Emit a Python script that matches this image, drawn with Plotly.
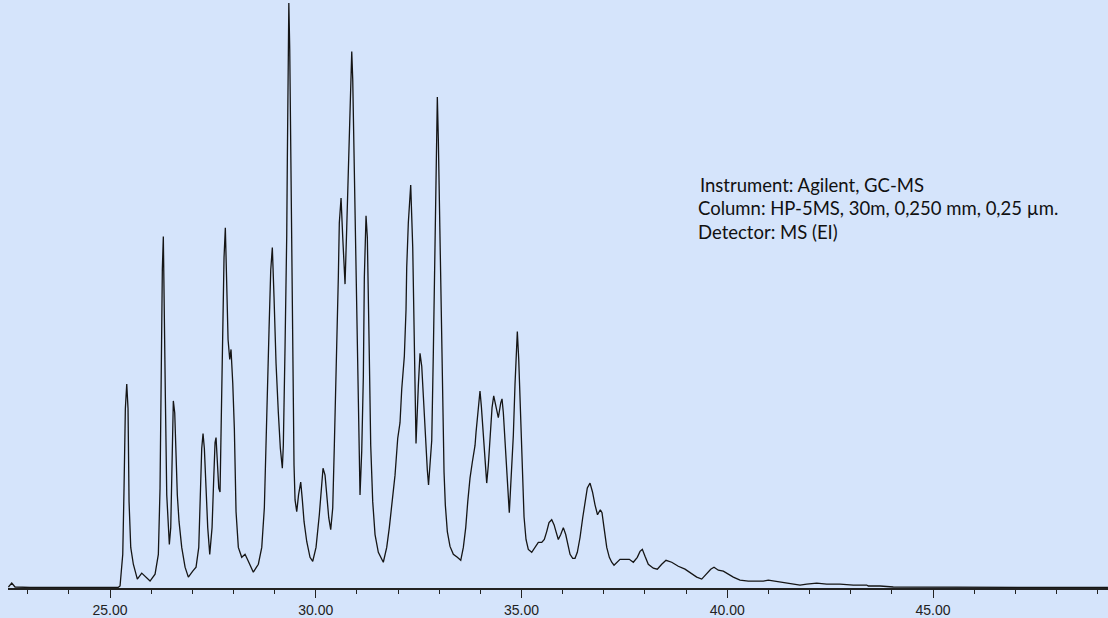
import plotly.graph_objects as go

# Total ion chromatogram: retention time (min) and abundance (x1000 counts)
rt_min = [
    22.529, 22.611, 22.691, 23.056, 23.785, 24.514, 25.194, 25.243,
    25.309, 25.340, 25.372, 25.406, 25.437, 25.462, 25.503, 25.566, 25.663, 25.770,
    25.868, 25.972, 26.094, 26.174, 26.215, 26.239, 26.271, 26.295, 26.320, 26.344,
    26.378, 26.409, 26.441, 26.475, 26.507, 26.538, 26.572, 26.604, 26.635, 26.677,
    26.742, 26.823, 26.903, 27.010, 27.090, 27.156, 27.187, 27.228, 27.260, 27.292,
    27.333, 27.374, 27.423, 27.479, 27.520, 27.552, 27.576, 27.608, 27.642, 27.673,
    27.697, 27.729, 27.770, 27.802, 27.836, 27.868, 27.909, 27.940, 27.982, 28.021,
    28.062, 28.118, 28.200, 28.281, 28.361, 28.482, 28.604, 28.687, 28.750, 28.808,
    28.864, 28.905, 28.944, 28.985, 29.034, 29.090, 29.139, 29.187, 29.211, 29.253,
    29.277, 29.294, 29.309, 29.321, 29.345, 29.367, 29.382, 29.399, 29.416, 29.440,
    29.471, 29.496, 29.537, 29.581, 29.634, 29.673, 29.715, 29.780, 29.860, 29.926,
    30.006, 30.086, 30.128, 30.176, 30.225, 30.266, 30.315, 30.363, 30.412, 30.451,
    30.492, 30.524, 30.548, 30.572, 30.614, 30.655, 30.687, 30.711, 30.752, 30.791,
    30.832, 30.874, 30.898, 30.937, 30.978, 31.019, 31.058, 31.075, 31.117, 31.156,
    31.180, 31.202, 31.221, 31.253, 31.277, 31.301, 31.335, 31.384, 31.440, 31.520,
    31.641, 31.724, 31.787, 31.846, 31.926, 31.991, 32.047, 32.089, 32.152, 32.193,
    32.210, 32.249, 32.307, 32.356, 32.395, 32.419, 32.436, 32.492, 32.533, 32.575,
    32.614, 32.655, 32.711, 32.740, 32.776, 32.818, 32.857, 32.891, 32.922, 32.939,
    32.954, 32.978, 33.019, 33.061, 33.100, 33.117, 33.148, 33.197, 33.262, 33.343,
    33.440, 33.523, 33.586, 33.644, 33.693, 33.748, 33.804, 33.870, 33.894, 33.936,
    33.975, 33.991, 34.023, 34.072, 34.120, 34.154, 34.193, 34.235, 34.283, 34.324,
    34.380, 34.436, 34.495, 34.526, 34.558, 34.599, 34.640, 34.672, 34.703, 34.738,
    34.762, 34.801, 34.842, 34.883, 34.898, 34.932, 34.964, 35.005, 35.061, 35.109,
    35.165, 35.248, 35.328, 35.408, 35.491, 35.554, 35.612, 35.668, 35.734, 35.790,
    35.838, 35.894, 35.953, 36.016, 36.074, 36.123, 36.179, 36.244, 36.300, 36.356,
    36.422, 36.487, 36.543, 36.599, 36.665, 36.725, 36.786, 36.847, 36.915, 36.956,
    37.005, 37.071, 37.134, 37.192, 37.248, 37.314, 37.394, 37.515, 37.620, 37.717,
    37.814, 37.880, 37.936, 38.001, 38.081, 38.203, 38.300, 38.407, 38.511, 38.650,
    38.810, 38.973, 39.136, 39.258, 39.379, 39.501, 39.598, 39.678, 39.783, 39.904,
    40.026, 40.147, 40.310, 40.512, 40.716, 40.876, 40.998, 41.160, 41.323, 41.525,
    41.768, 41.931, 42.174, 42.417, 42.740, 43.063, 43.389, 43.428, 43.712, 44.035,
    44.847, 45.656, 46.628, 47.843, 49.252,
]

abundance = [
    5, 45, 5, 0, 0, 0, 0, 15,
    335, 1005, 1805, 2055, 1805, 865, 405, 235, 85, 145,
    105, 65, 135, 335, 1005, 2135, 3215, 3545, 2935, 1935,
    935, 605, 435, 605, 1265, 1885, 1765, 1335, 935, 665,
    405, 205, 105, 165, 205, 405, 935, 1405, 1555, 1405,
    1005, 605, 335, 605, 1105, 1465, 1515, 1265, 1005, 965,
    1605, 2605, 3335, 3635, 3165, 2505, 2305, 2405, 2065, 1605,
    765, 405, 305, 335, 265, 155, 235, 405, 805, 1605,
    2605, 3205, 3435, 2935, 2265, 1765, 1405, 1205, 1435, 2435,
    2935, 3555, 4335, 4955, 5905, 5435, 4865, 3935, 2935, 2135,
    1235, 885, 765, 935, 1065, 885, 665, 465, 305, 265,
    405, 735, 1005, 1205, 1135, 935, 705, 585, 805, 1435,
    2065, 2505, 3135, 3685, 3935, 3535, 3185, 3065, 3635, 4285,
    4935, 5415, 5135, 4235, 3035, 2035, 1265, 935, 1385, 2135,
    3135, 3535, 3755, 3535, 3035, 2335, 1435, 865, 535, 355,
    255, 405, 605, 835, 1135, 1505, 1665, 2005, 2335, 2805,
    3235, 3685, 4065, 3435, 2435, 1735, 1455, 2035, 2365, 2235,
    1935, 1535, 1185, 1035, 1235, 1485, 2375, 3235, 3985, 4435,
    4955, 4535, 3535, 2365, 1535, 1165, 835, 565, 415, 335,
    305, 275, 405, 605, 865, 1105, 1265, 1435, 1565, 1785,
    1965, 1985, 1835, 1535, 1235, 1055, 1235, 1535, 1815, 1935,
    1835, 1715, 1865, 1905, 1765, 1505, 1205, 935, 755, 1035,
    1235, 1535, 2055, 2485, 2585, 2305, 1855, 1335, 715, 485,
    385, 355, 405, 455, 455, 485, 565, 655, 685, 635,
    565, 485, 535, 605, 535, 435, 335, 295, 295, 355,
    505, 705, 865, 1005, 1055, 965, 835, 735, 785, 755,
    605, 405, 305, 255, 225, 255, 285, 285, 285, 255,
    305, 365, 385, 315, 235, 195, 185, 235, 275, 255,
    215, 185, 135, 105, 85, 135, 185, 205, 175, 165,
    135, 105, 75, 65, 65, 65, 75, 65, 55, 35,
    25, 35, 45, 35, 35, 25, 25, 15, 15, 5,
    5, 0, 0, 0, 0,
]

# Run conditions printed on the chromatogram
info_lines = [
    "Instrument: Agilent, GC-MS",
    "Column: HP-5MS, 30m, 0,250 mm, 0,25 \u00b5m.",
    "Detector: MS (EI)",
]

bg = "#D5E4FB"

fig = go.Figure()
fig.add_trace(go.Scatter(
    x=rt_min, y=abundance, mode="lines",
    line=dict(color="#151515", width=1.3),
    showlegend=False, hoverinfo="x+y",
))

annotations = []
info_x = [39.29, 39.24, 39.24]
info_y = [0.6852, 0.6456, 0.6061]
for txt, ax_, ay_ in zip(info_lines, info_x, info_y):
    annotations.append(dict(
        x=ax_, xref="x", y=ay_, yref="paper", text=txt, showarrow=False,
        xanchor="left", yanchor="middle",
        font=dict(family="Lato, Carlito, sans-serif", size=18.5, color="#111111"),
    ))

fig.update_layout(
    width=1108, height=618,
    margin=dict(l=8, r=0, t=0, b=24),
    paper_bgcolor=bg, plot_bgcolor=bg,
    annotations=annotations,
    xaxis=dict(
        range=[22.52, 49.253],
        tick0=25, dtick=5, tickformat=".2f",
        ticks="outside", ticklen=8, tickwidth=1, tickcolor="#222222",
        showline=True, linecolor="#222222", linewidth=2,
        showgrid=False, zeroline=False,
        tickfont=dict(family="Liberation Sans, Arial, sans-serif", size=14, color="#222222"),
        minor=dict(dtick=1, tick0=25, ticks="outside", ticklen=4,
                   tickcolor="#222222", showgrid=False),
    ),
    yaxis=dict(range=[-5, 5935], visible=False, showgrid=False, zeroline=False),
)

fig.write_html("out.html")
